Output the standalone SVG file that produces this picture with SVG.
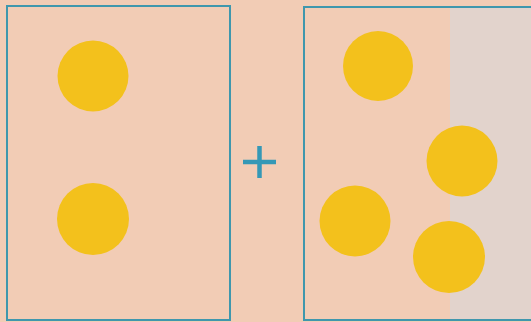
<svg xmlns="http://www.w3.org/2000/svg" width="531" height="322" viewBox="0 0 531 322">
<style>
.box{fill:none;stroke:#3f97ad;stroke-width:2}
.dot{fill:#f3c11c}
.plus{stroke:#3598b6;stroke-width:4.5;stroke-linecap:butt}
</style>
<rect x="0" y="0" width="531" height="322" fill="#f2ccb5"/>
<rect x="450" y="8" width="81" height="311" fill="#e2d3cc"/>
<g id="left-box">
<rect class="box" x="7" y="6" width="223" height="314"/>
<circle class="dot" cx="93" cy="76" r="35.5"/>
<circle class="dot" cx="93" cy="219" r="36"/>
</g>
<g id="plus">
<line class="plus" x1="243" y1="162" x2="276" y2="162"/>
<line class="plus" x1="259.5" y1="146" x2="259.5" y2="178"/>
</g>
<g id="right-box">
<rect class="box" x="304" y="7" width="240" height="313"/>
<circle class="dot" cx="378" cy="66" r="35"/>
<circle class="dot" cx="462" cy="161" r="35.5"/>
<circle class="dot" cx="355" cy="221" r="35.5"/>
<circle class="dot" cx="449" cy="257" r="36"/>
</g>
</svg>
